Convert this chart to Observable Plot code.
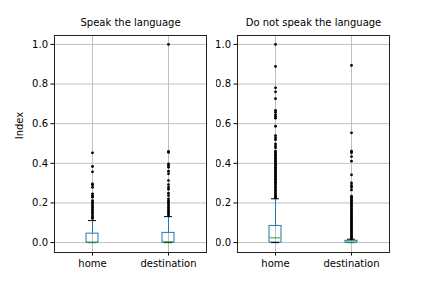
<!DOCTYPE html>
<html>
<head>
<meta charset="utf-8">
<script src="https://cdn.jsdelivr.net/npm/d3@7"></script>
<script src="https://cdn.jsdelivr.net/npm/@observablehq/plot@0.6"></script>
<style>
  body { margin: 0; background: #fff; }
  #wrap { position: relative; width: 432px; height: 288px; overflow: hidden; }
  #wrap svg { position: absolute; top: 0; font-family: "DejaVu Sans", sans-serif; }
</style>
</head>
<body>
<div id="wrap"></div>
<script>
const panels = ["Speak the language", "Do not speak the language"];
const groups = ["home", "destination"];
const yTicks = [0, 0.2, 0.4, 0.6, 0.8, 1.0];

// box statistics per panel, per group (home, destination)
const q1 = [[0, 0], [0, 0]];
const median = [[0, 0.003], [0.024, 0.001]];
const q3 = [[0.045, 0.049], [0.084, 0.009]];
const whiskerLo = [[0, 0], [0, 0]];
const whiskerHi = [[0.111, 0.131], [0.221, 0.017]];

// outliers
const outSpeakHome = [0.453, 0.384, 0.357, 0.296, 0.290, 0.279, 0.246, 0.237, 0.229, 0.212, 0.204,
  0.195, 0.187, 0.178, 0.170, 0.162, 0.153, 0.145, 0.136, 0.128, 0.121];
const outSpeakDest = [1.0, 0.46, 0.455, 0.397, 0.389, 0.380, 0.360, 0.347, 0.313, 0.293, 0.279, 0.269,
  0.249, 0.237, 0.221, 0.212, 0.204, 0.195, 0.187, 0.178, 0.170, 0.162, 0.153, 0.145, 0.136];
const outNotHome = [1.0, 0.889, 0.781, 0.761, 0.726, 0.667, 0.658, 0.645, 0.636, 0.628, 0.587,
  0.540, 0.529, 0.519, 0.498, 0.487, 0.478, 0.462, 0.455, 0.447, 0.440, 0.432, 0.425, 0.417, 0.410,
  0.402, 0.395, 0.387, 0.380, 0.372, 0.365, 0.357, 0.350, 0.342, 0.335, 0.327, 0.320, 0.312, 0.305,
  0.297, 0.290, 0.282, 0.275, 0.267, 0.260, 0.252, 0.245, 0.237, 0.230, 0.226];
const outNotDest = [0.894, 0.554, 0.461, 0.453, 0.434, 0.411, 0.342, 0.301, 0.288, 0.279, 0.266,
  0.234, 0.228, 0.221, 0.214, 0.207, 0.200, 0.193, 0.186, 0.179, 0.172, 0.165, 0.158, 0.151, 0.144,
  0.137, 0.130, 0.123, 0.116, 0.109, 0.102, 0.095, 0.088, 0.081, 0.074, 0.067, 0.060, 0.053, 0.046,
  0.039, 0.032, 0.025, 0.020];
const outliers = [[outSpeakHome, outSpeakDest], [outNotHome, outNotDest]];

const layout = [
  {left: 0, width: 216, marginLeft: 54, marginRight: 10},
  {left: 216, width: 216, marginLeft: 21, marginRight: 43}
];

const wrap = document.getElementById("wrap");

panels.forEach((title, p) => {
  const boxes = groups.map((g, i) => ({
    g, q1: q1[p][i], med: median[p][i], q3: q3[p][i], lo: whiskerLo[p][i], hi: whiskerHi[p][i]
  }));
  const pts = groups.flatMap((g, i) => outliers[p][i].map(v => ({g, v})));
  const L = layout[p];
  const marks = [
    Plot.gridY(yTicks, {stroke: "#b0b0b0", strokeOpacity: 1, strokeWidth: 0.8}),
    Plot.gridX(groups, {stroke: "#b0b0b0", strokeOpacity: 1, strokeWidth: 0.8}),
    Plot.axisY(yTicks, {tickFormat: d3.format(".1f"), tickSize: 3.5, tickPadding: 3, fontSize: 10, label: null, stroke: "black", fill: "black"}),
    Plot.axisX(groups, {tickSize: 3.5, tickPadding: 4, fontSize: 10, label: null}),
    Plot.ruleX(boxes, {x: "g", y1: "q3", y2: "hi", stroke: "#1f77b4", strokeWidth: 1}),
    Plot.ruleX(boxes, {x: "g", y1: "lo", y2: "q1", stroke: "#1f77b4", strokeWidth: 1}),
    Plot.rect(boxes, {x: "g", y1: "q1", y2: "q3", fill: "none", stroke: "#1f77b4", strokeWidth: 1, insetLeft: 32, insetRight: 32}),
    Plot.tickY(boxes, {x: "g", y: "hi", stroke: "black", strokeWidth: 1, inset: 34}),
    Plot.tickY(boxes, {x: "g", y: "lo", stroke: "black", strokeWidth: 1, inset: 34}),
    Plot.tickY(boxes, {x: "g", y: "med", stroke: "#2ca02c", strokeWidth: 1, inset: 32.5}),
    Plot.dot(pts, {x: "g", y: "v", r: 1.4, fill: "black", stroke: "none"}),
    Plot.frame({stroke: "#222", strokeWidth: 1}),
    Plot.text([title], {frameAnchor: "top", dy: -17, fontSize: 10, fill: "black"})
  ];
  if (p === 0) {
    marks.push(Plot.text(["Index"], {frameAnchor: "top-left", dx: -39, dy: 90, rotate: -90, fontSize: 10, fill: "black", textAnchor: "middle"}));
  }
  const chart = Plot.plot({
    width: L.width,
    height: 288,
    marginLeft: L.marginLeft,
    marginRight: L.marginRight,
    marginTop: 35,
    marginBottom: 36,
    style: {background: "transparent", color: "black", fontFamily: "DejaVu Sans, sans-serif"},
    x: {type: "band", domain: groups, padding: 0, axis: null},
    y: {domain: [-0.05, 1.045], axis: null},
    marks
  });
  chart.style.left = L.left + "px";
  wrap.appendChild(chart);
});
</script>
</body>
</html>
